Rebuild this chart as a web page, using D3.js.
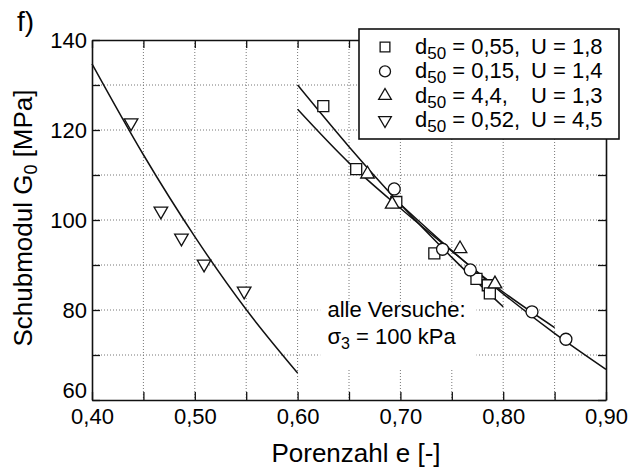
<!DOCTYPE html>
<html>
<head>
<meta charset="utf-8">
<script src="https://cdn.jsdelivr.net/npm/d3@7"></script>
<style>
  body { margin: 0; background: #fff; }
  svg { display: block; font-family: 'Liberation Sans', Arial, Helvetica, sans-serif; }
</style>
</head>
<body>
<div id="chart"></div>
<script>
// Data: [Porenzahl e, G0 in MPa]
const squarePts = [[0.625, 125.3], [0.657, 111.3], [0.696, 104.0], [0.733, 92.6], [0.774, 86.9], [0.785, 85.5], [0.787, 83.7]];
const circlePts = [[0.694, 106.9], [0.741, 93.5], [0.768, 88.9], [0.828, 79.6], [0.861, 73.5]];
const triUpPts = [[0.668, 110.2], [0.692, 103.5], [0.758, 93.6], [0.792, 85.8]];
const triDownPts = [[0.438, 121.6], [0.467, 102.0], [0.487, 96.0], [0.509, 90.2], [0.548, 84.2]];

// fitted curves
const squareFit = [[0.60, 130.0], [0.65, 116.3], [0.70, 103.5], [0.75, 91.7], [0.80, 80.7]];
const triUpFit = [[0.60, 124.6], [0.65, 112.7], [0.70, 102.6], [0.75, 93.1], [0.80, 84.0], [0.85, 76.1]];
const circleFit = [[0.70, 103.5], [0.75, 93.2], [0.80, 83.6], [0.85, 74.8], [0.90, 66.8]];
const triDownFit = [[0.40, 134.7], [0.45, 114.5], [0.50, 96.3], [0.55, 80.1], [0.60, 66.0]];

const xTicks = [0.40, 0.45, 0.50, 0.55, 0.60, 0.65, 0.70, 0.75, 0.80, 0.85, 0.90];
const xLabels = [0.40, 0.50, 0.60, 0.70, 0.80, 0.90];
const yTicks = [60, 70, 80, 90, 100, 110, 120, 130, 140];
const yLabels = [60, 80, 100, 120, 140];

const legendLeft = ['= 0,55,', '= 0,15,', '= 4,4,', '= 0,52,'];
const legendRight = ['U = 1,8', 'U = 1,4', 'U = 1,3', 'U = 4,5'];

const dimensions = {
  width: 637,
  height: 470,
  margin: { top: 40, bottom: 70, left: 92, right: 31 }
};
dimensions.ctrWidth = dimensions.width - dimensions.margin.left - dimensions.margin.right;
dimensions.ctrHeight = dimensions.height - dimensions.margin.top - dimensions.margin.bottom;

const fmt = d3.formatLocale({ decimal: ',', thousands: '.', grouping: [3], currency: ['', ''] }).format('.2f');

const svg = d3.select('#chart')
  .append('svg')
  .attr('width', dimensions.width)
  .attr('height', dimensions.height);

const ctr = svg.append('g')
  .attr('transform', `translate(${dimensions.margin.left}, ${dimensions.margin.top})`);

// Scales
const xScale = d3.scaleLinear().domain([0.40, 0.90]).range([0, dimensions.ctrWidth]);
const yScale = d3.scaleLinear().domain([60, 140]).range([dimensions.ctrHeight, 0]);

// Grid
const grid = ctr.append('g')
  .attr('stroke', '#777')
  .attr('stroke-width', 1)
  .attr('stroke-dasharray', '1,2');
grid.selectAll('.gx')
  .data(xTicks.slice(1, -1))
  .join('line')
  .attr('x1', d => xScale(d)).attr('x2', d => xScale(d))
  .attr('y1', 0).attr('y2', dimensions.ctrHeight);
grid.selectAll('.gy')
  .data(yTicks.slice(1, -1))
  .join('line')
  .attr('y1', d => yScale(d)).attr('y2', d => yScale(d))
  .attr('x1', 0).attr('x2', dimensions.ctrWidth);

// white box behind the note
const note = ctr.append('g');
note.append('rect')
  .attr('x', xScale(0.622)).attr('y', yScale(81.2))
  .attr('width', xScale(0.774) - xScale(0.622))
  .attr('height', yScale(67) - yScale(81.2))
  .attr('fill', '#fff');

// Axes (ticks inside on all four sides)
const isMajorX = d => xLabels.some(v => Math.abs(v - d) < 1e-9);
const isMajorY = d => yLabels.includes(d);

const styleAxis = g => {
  g.select('.domain').attr('stroke', '#111').attr('stroke-width', 1.6);
  g.selectAll('.tick line').attr('stroke', '#111').attr('stroke-width', 1.3);
  g.selectAll('.tick text').attr('fill', '#000').style('font-size', '22px');
};

ctr.append('g')
  .attr('transform', `translate(0, ${dimensions.ctrHeight})`)
  .call(d3.axisBottom(xScale).tickValues(xTicks).tickSize(-8).tickSizeOuter(0).tickPadding(8)
    .tickFormat(d => isMajorX(d) ? fmt(d) : ''))
  .call(styleAxis);

ctr.append('g')
  .call(d3.axisTop(xScale).tickValues(xTicks).tickSize(-8).tickSizeOuter(0).tickFormat(''))
  .call(styleAxis);

ctr.append('g')
  .call(d3.axisLeft(yScale).tickValues(yTicks).tickSize(-8).tickSizeOuter(0).tickPadding(5)
    .tickFormat(d => isMajorY(d) ? d : ''))
  .call(styleAxis)
  .call(g => g.selectAll('.tick text').filter(d => d === 60).attr('dy', '-0.1em'));

ctr.append('g')
  .attr('transform', `translate(${dimensions.ctrWidth}, 0)`)
  .call(d3.axisRight(yScale).tickValues(yTicks).tickSize(-8).tickSizeOuter(0).tickFormat(''))
  .call(styleAxis);

// Fitted curves
const line = d3.line()
  .x(d => xScale(d[0]))
  .y(d => yScale(d[1]))
  .curve(d3.curveMonotoneX);

ctr.append('g')
  .selectAll('path')
  .data([triDownFit, squareFit, triUpFit, circleFit])
  .join('path')
  .attr('d', line)
  .attr('fill', 'none')
  .attr('stroke', '#111')
  .attr('stroke-width', 1.5);

// Markers
const series = [
  { pts: squarePts, type: d3.symbolSquare, size: 121, rot: 0 },
  { pts: circlePts, type: d3.symbolCircle, size: 113, rot: 0 },
  { pts: triUpPts, type: d3.symbolTriangle, size: 80, rot: 0 },
  { pts: triDownPts, type: d3.symbolTriangle, size: 80, rot: 180 }
];

series.forEach(s => {
  ctr.append('g')
    .selectAll('path')
    .data(s.pts)
    .join('path')
    .attr('d', d3.symbol().type(s.type).size(s.size))
    .attr('transform', d => `translate(${xScale(d[0])}, ${yScale(d[1])}) rotate(${s.rot})`)
    .attr('fill', '#fff')
    .attr('stroke', '#111')
    .attr('stroke-width', 1.3);
});

// Note text
const noteText = note.append('text')
  .attr('x', xScale(0.629))
  .attr('fill', '#000')
  .style('font-size', '22px');
noteText.append('tspan').attr('x', xScale(0.629)).attr('y', yScale(78.4)).text('alle Versuche:');
noteText.append('tspan').attr('x', xScale(0.629)).attr('y', yScale(72.5)).text('σ');
noteText.append('tspan').attr('dy', 5).style('font-size', '16px').text('3');
noteText.append('tspan').attr('dy', -5).text(' = 100 kPa');

// Legend
const legend = svg.append('g').attr('transform', 'translate(359, 29)');
legend.append('rect')
  .attr('width', 260).attr('height', 110)
  .attr('fill', '#fff')
  .attr('stroke', '#111')
  .attr('stroke-width', 1.6);

const legendSizes = [95, 95, 70, 70];
const rows = legend.selectAll('.row')
  .data(series)
  .join('g')
  .attr('transform', (d, i) => `translate(0, ${18 + i * 24.4})`);

rows.append('path')
  .attr('d', (d, i) => d3.symbol().type(d.type).size(legendSizes[i])())
  .attr('transform', d => `translate(26, 0) rotate(${d.rot})`)
  .attr('fill', '#fff')
  .attr('stroke', '#111')
  .attr('stroke-width', 1.3);

const lt = rows.append('text')
  .attr('x', 56)
  .attr('y', 7)
  .attr('fill', '#000')
  .style('font-size', '22px');
lt.append('tspan').text('d');
lt.append('tspan').attr('dy', 5).style('font-size', '17px').text('50');
lt.append('tspan').attr('dy', -5).text((d, i) => ' ' + legendLeft[i]);

rows.append('text')
  .attr('x', 172)
  .attr('y', 7)
  .attr('fill', '#000')
  .style('font-size', '22px')
  .text((d, i) => legendRight[i]);

// Labels
svg.append('text')
  .attr('x', 356)
  .attr('y', 462)
  .attr('text-anchor', 'middle')
  .attr('fill', '#000')
  .style('font-size', '26px')
  .text('Porenzahl e [-]');

const yTitle = svg.append('text')
  .attr('transform', 'translate(32, 218) rotate(-90)')
  .attr('text-anchor', 'middle')
  .attr('fill', '#000')
  .style('font-size', '26px');
yTitle.append('tspan').text('Schubmodul G');
yTitle.append('tspan').attr('dy', 5).style('font-size', '18px').text('0');
yTitle.append('tspan').attr('dy', -5).text(' [MPa]');

svg.append('text')
  .attr('x', 17)
  .attr('y', 31)
  .attr('fill', '#000')
  .style('font-size', '28px')
  .text('f)');
</script>
</body>
</html>
